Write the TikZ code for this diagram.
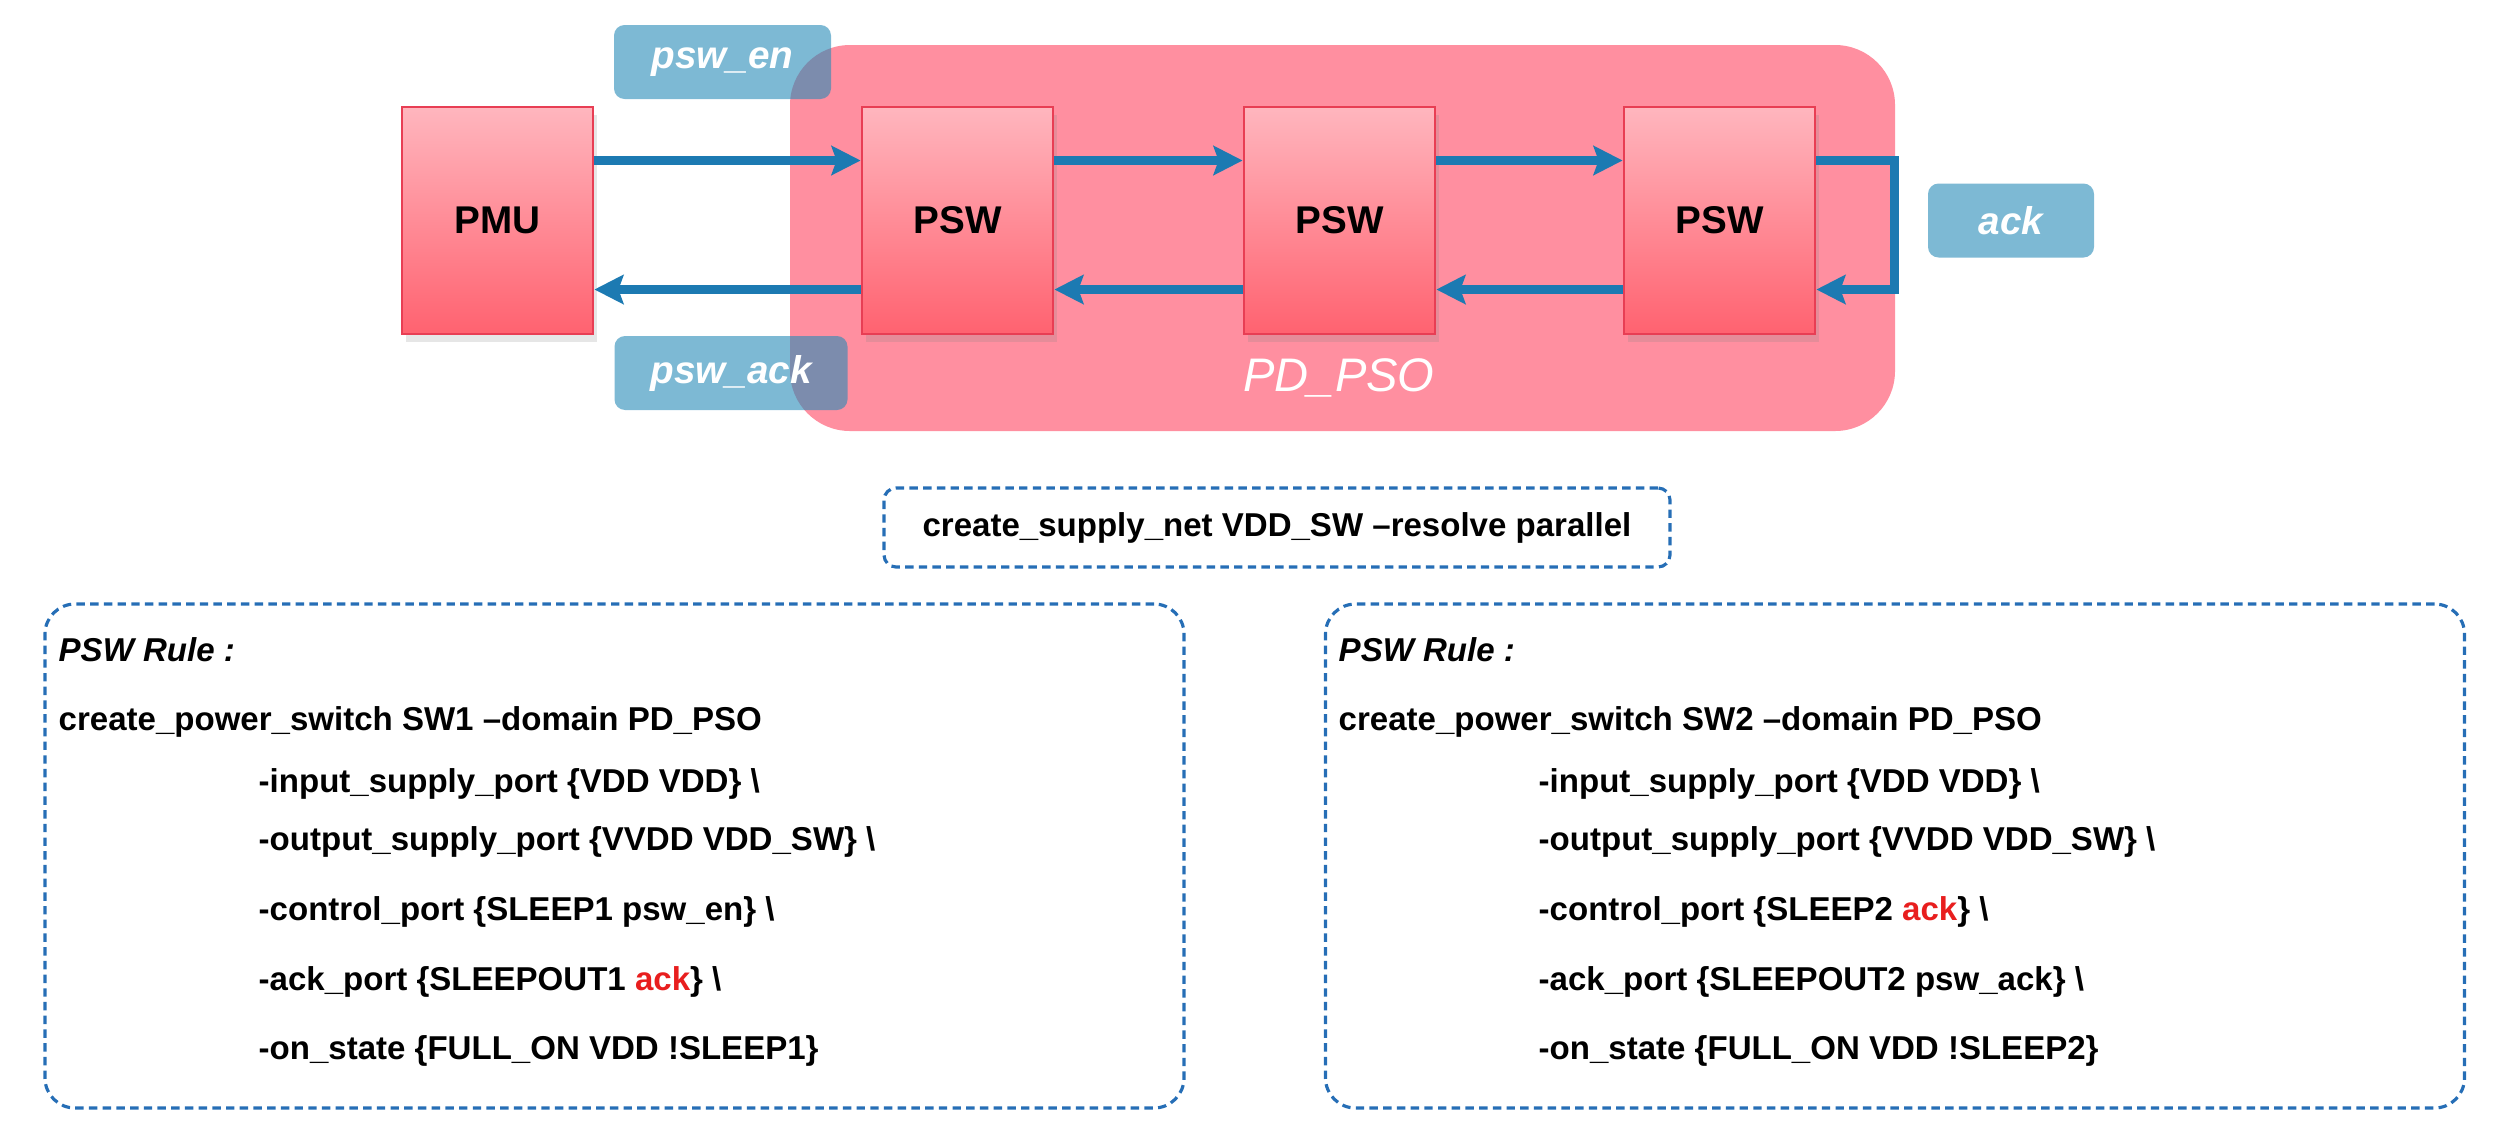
\documentclass[tikz,border=0pt]{standalone}
\usepackage{fontspec}
\setmainfont{Liberation Sans}
\usetikzlibrary{arrows.meta, positioning, shadows}
\usepackage{xcolor}
\definecolor{psopink}{RGB}{255, 143, 160}
\definecolor{boxtop}{RGB}{255, 182, 190}
\definecolor{boxbottom}{RGB}{255, 98, 112}
\definecolor{boxedge}{RGB}{232, 62, 84}
\definecolor{flowblue}{RGB}{28, 122, 178}
\definecolor{tagblue}{RGB}{38, 138, 183}
\definecolor{dashblue}{RGB}{38, 110, 182}
\definecolor{ackred}{RGB}{232, 30, 30}

\begin{document}
\begin{tikzpicture}[
  block/.style={draw=boxedge, line width=0.8pt, top color=boxtop, bottom color=boxbottom,
    minimum width=1.91cm, minimum height=2.27cm, font=\fontsize{11}{13}\selectfont\bfseries,
    drop shadow={shadow xshift=0.4mm, shadow yshift=-0.8mm, opacity=0.2}},
  tag/.style={fill=tagblue, fill opacity=0.6, text opacity=1, text=white, rounded corners=3pt,
    minimum height=0.74cm, font=\fontsize{11}{13}\selectfont\bfseries\itshape},
  flow/.style={flowblue, line width=2.8pt, -{Stealth[length=2.9mm, width=2.9mm, inset=0.5mm]}},
  dashbox/.style={draw=dashblue, line width=0.9pt, dash pattern=on 2.4pt off 1.5pt},
  cmd/.style={font=\fontsize{9.4}{11}\selectfont\bfseries, anchor=mid west, inner sep=0pt}
]
  \useasboundingbox (0,0) rectangle (24.94,-11.31);

  % power domain
  \node[fill=psopink, rounded corners=0.6cm, minimum width=11.05cm, minimum height=3.86cm] (pso) at (13.425,-2.38) {};
  \node[white, font=\fontsize{13.4}{15}\selectfont\itshape] (psolbl) at (13.39,-3.78) {PD\_PSO};

  % signal tags
  \node[tag, minimum width=2.17cm] (en) at (7.225,-0.62) {psw\_en};
  \node[tag, minimum width=2.33cm] (pswack) at (7.31,-3.73) {psw\_ack};
  \node[tag, minimum width=1.66cm] (ack) at (20.11,-2.205) {ack};

  \node[block] (pmu) at (4.975,-2.205) {PMU};
  \foreach \i/\x in {1/9.575, 2/13.395, 3/17.195}
    \node[block] (psw\i) at (\x,-2.205) {PSW};

  % enable chain, then ack chain back
  \draw[flow] ([yshift=6mm]pmu.east) -- ([yshift=6mm]psw1.west);
  \draw[flow] ([yshift=6mm]psw1.east) -- ([yshift=6mm]psw2.west);
  \draw[flow] ([yshift=6mm]psw2.east) -- ([yshift=6mm]psw3.west);
  \draw[flow] ([yshift=6mm]psw3.east) -- ++(0.78,0) |- ([yshift=-6.9mm]psw3.east);
  \draw[flow] ([yshift=-6.9mm]psw3.west) -- ([yshift=-6.9mm]psw2.east);
  \draw[flow] ([yshift=-6.9mm]psw2.west) -- ([yshift=-6.9mm]psw1.east);
  \draw[flow] ([yshift=-6.9mm]psw1.west) -- ([yshift=-6.9mm]pmu.east);

  % upf commands
  \node[dashbox, rounded corners=0.12cm, minimum width=7.86cm, minimum height=0.79cm,
    font=\fontsize{9.4}{11}\selectfont\bfseries] (net) at (12.77,-5.275)
    {create\_supply\_net VDD\_SW --resolve parallel};

  \node[dashbox, rounded corners=0.3cm, minimum width=11.39cm, minimum height=5.04cm] (rule1) at (6.145,-8.56) {};
  \node[dashbox, rounded corners=0.3cm, minimum width=11.39cm, minimum height=5.04cm] (rule2) at (18.95,-8.56) {};

  \node[cmd, font=\fontsize{9.4}{11}\selectfont\bfseries\itshape] (t1) at (0.58,-6.52) {PSW Rule :};
  \node[cmd] (c1) at (0.58,-7.21) {create\_power\_switch SW1 --domain PD\_PSO};
  \node[cmd] (i1) at (2.58,-7.83) {-input\_supply\_port \{VDD VDD\} \textbackslash};
  \node[cmd] (o1) at (2.58,-8.41) {-output\_supply\_port \{VVDD VDD\_SW\} \textbackslash};
  \node[cmd] (k1) at (2.58,-9.11) {-control\_port \{SLEEP1 psw\_en\} \textbackslash};
  \node[cmd] (a1) at (2.58,-9.81) {-ack\_port \{SLEEPOUT1 \textcolor{ackred}{ack}\} \textbackslash};
  \node[cmd] (s1) at (2.58,-10.50) {-on\_state \{FULL\_ON VDD !SLEEP1\}};

  \node[cmd, font=\fontsize{9.4}{11}\selectfont\bfseries\itshape] (t2) at (13.38,-6.52) {PSW Rule :};
  \node[cmd] (c2) at (13.38,-7.21) {create\_power\_switch SW2 --domain PD\_PSO};
  \node[cmd] (i2) at (15.38,-7.83) {-input\_supply\_port \{VDD VDD\} \textbackslash};
  \node[cmd] (o2) at (15.38,-8.41) {-output\_supply\_port \{VVDD VDD\_SW\} \textbackslash};
  \node[cmd] (k2) at (15.38,-9.11) {-control\_port \{SLEEP2 \textcolor{ackred}{ack}\} \textbackslash};
  \node[cmd] (a2) at (15.38,-9.81) {-ack\_port \{SLEEPOUT2 psw\_ack\} \textbackslash};
  \node[cmd] (s2) at (15.38,-10.50) {-on\_state \{FULL\_ON VDD !SLEEP2\}};
\end{tikzpicture}
\end{document}
